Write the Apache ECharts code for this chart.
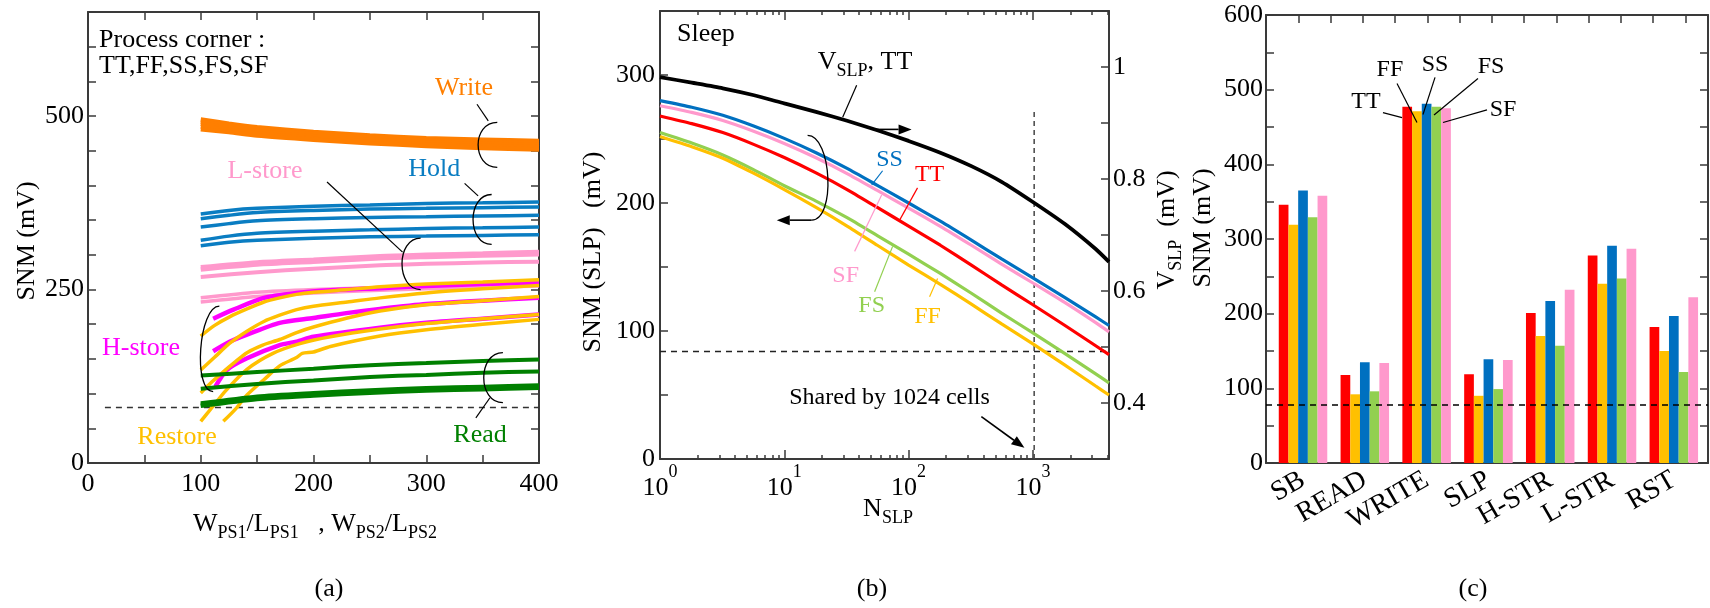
<!DOCTYPE html>
<html>
<head>
<meta charset="utf-8">
<script src="https://cdn.jsdelivr.net/npm/echarts@6/dist/echarts.min.js"></script>
<style>
html,body{margin:0;padding:0;background:#fff;}
#chart{width:1710px;height:608px;}
</style>
</head>
<body>
<div id="chart"></div>
<script>
// ---------- (a) SNM vs W/L of the power switches ----------
const WRITE_CURVES = [
  [[100,495],[125,489],[150,484],[200,477],[250,472],[300,468],[350,466],[400,464]],
  [[100,492],[125,486],[150,481],[200,474],[250,469],[300,465],[350,463],[400,461]],
  [[100,489],[125,483],[150,478],[200,471],[250,466],[300,462],[350,460],[400,458]],
  [[100,485],[125,480],[150,475],[200,468],[250,463],[300,459],[350,457],[400,455]],
  [[100,481],[125,477],[150,472],[200,466],[250,461],[300,457],[350,454],[400,452]]
];
const HOLD_CURVES = [
  [[100,359],[125,364],[150,367],[200,370],[250,372],[300,374],[350,375],[400,376]],
  [[100,352],[125,357],[150,361],[200,364],[250,366],[300,367],[350,368],[400,369]],
  [[100,340],[125,345],[150,349],[200,352],[250,354],[300,355],[350,356],[400,357]],
  [[100,321],[125,327],[150,331],[200,334],[250,336],[300,338],[350,339],[400,340]],
  [[100,313],[125,318],[150,321],[200,324],[250,326],[300,327],[350,328],[400,329]]
];
const LSTORE_CURVES = [
  [[100,282],[150,289],[200,293],[259,298],[300,300],[350,302],[400,304]],
  [[100,279],[150,286],[200,290],[259,295],[300,297],[350,299],[400,301]],
  [[100,268],[150,275],[200,280],[259,285],[300,287],[350,289],[400,290]],
  [[100,238],[150,246],[200,250],[259,253],[300,255],[350,257],[400,259]],
  [[100,232],[150,240],[200,245],[259,249],[300,251],[350,253],[400,255]]
];
const HSTORE_CURVES = [
  [[111,208],[129,221],[156,238],[185,245],[215,249],[259,252],[300,255],[350,258],[400,260]],
  [[111,161],[126,175],[141,185],[170,202],[200,209],[229,216],[259,222],[300,229],[350,234],[400,238]],
  [[113,110],[123,134],[141,151],[170,170],[185,175],[200,182],[259,195],[300,202],[350,208],[400,214]]
];
const RESTORE_CURVES = [
  [[100,183],[112,198],[126,211],[141,222],[156,232],[170,238],[185,243],[200,246],[230,250],[259,254],[300,258],[350,261],[400,264]],
  [[100,134],[112,152],[126,173],[141,190],[156,204],[170,213],[185,221],[200,226],[230,232],[259,238],[300,245],[350,251],[400,256]],
  [[100,101],[110,117],[119,130],[130,145],[141,159],[155,170],[170,178],[185,188],[200,196],[230,209],[259,219],[300,228],[350,234],[400,240]],
  [[100,60],[110,80],[122,104],[141,135],[164,158],[188,172],[215,182],[259,193],[300,201],[350,208],[400,214]],
  [[120,60],[131,78],[141,98],[156,120],[170,140],[185,152],[190,158],[200,160],[215,168],[259,183],[300,192],[350,200],[400,207]]
];
const READ_CURVES = [
  [[100,126],[150,131],[200,136],[250,141],[300,144],[350,147],[400,149]],
  [[100,107],[150,114],[200,119],[250,124],[300,127],[350,130],[400,132]],
  [[100,86],[150,96],[200,101],[250,105],[300,108],[350,110],[400,112]],
  [[100,84],[150,94],[200,99],[250,103],[300,106],[350,108],[400,110]],
  [[100,82],[150,92],[200,97],[250,101],[300,104],[350,106],[400,108]]
];
const LIMIT_A = 80;           // minimum SNM requirement (mV)
const LIMIT_A_FROM = 15;      // W/L where the dashed line starts

// ---------- (b) SNM in sleep vs number of cells sharing one switch ----------
const N_SLP = [1, 1.8, 3.2, 5.6, 10, 18, 32, 56, 100, 180, 320, 560, 1000, 1800, 3200, 4096];
const SLP_SS = [280, 274.8, 268.5, 260.3, 250.5, 239.3, 227, 213.8, 200, 185.8, 171, 156.3, 141.5, 126.3, 111, 104.3];
const SLP_SF = [276, 270.8, 264.5, 256.3, 246.5, 235.3, 223, 209.8, 196, 181.8, 167, 152.3, 137.5, 122.3, 106.5, 99.3];
const SLP_TT = [268, 262, 255, 246, 235.5, 223.5, 210.5, 196.5, 182, 167, 151.5, 136, 120.5, 104.5, 88.5, 81.5];
const SLP_FS = [255, 246.8, 237.5, 226.3, 213.5, 201.5, 188.5, 174.5, 160, 145, 129.5, 114, 98.5, 82.5, 66.5, 59.5];
const SLP_FF = [252, 244, 235, 223.5, 210.5, 196.5, 182, 167, 151.5, 136.5, 121, 105.5, 90, 73.5, 57, 50];
const VSLP_TT = [0.982, 0.972, 0.962, 0.950, 0.935, 0.920, 0.904, 0.887, 0.868, 0.847, 0.823, 0.795, 0.759, 0.720, 0.675, 0.652];
const LIMIT_B = 84;
const N_SHARED = 1024;
const SHARED_LINE_TOP = 271;
const N_MAJOR = [1, 10, 100, 1000];
const N_MINOR = [2,3,4,5,6,7,8,9,20,30,40,50,60,70,80,90,200,300,400,500,600,700,800,900,2000,3000,4000];

// ---------- (c) SNM per operation mode and process corner ----------
const MODES = ['SB', 'READ', 'WRITE', 'SLP', 'H-STR', 'L-STR', 'RST'];
const CORNERS = ['TT', 'FF', 'SS', 'FS', 'SF'];
const SNM_TT = [346, 118, 477, 119, 201, 278, 182];
const SNM_FF = [319, 92, 471, 90, 170, 240, 150];
const SNM_SS = [365, 135, 481, 139, 217, 291, 197];
const SNM_FS = [329, 96, 477, 99, 157, 247, 122];
const SNM_SF = [358, 134, 475, 138, 232, 287, 222];
const LIMIT_C = 78;

const COL = {
  write: '#FF7F00', hold: '#0A7DC2', lstore: '#FF99CC', hstore: '#FF00FF',
  restore: '#FFC000', read: '#008000',
  TT: '#FF0000', FF: '#FFC000', SS: '#0070C0', FS: '#92D050', SF: '#FF99CC'
};
const FONT = '"Liberation Serif", "Times New Roman", serif';
const AX = '#3a3a3a';

const chart = echarts.init(document.getElementById('chart'), null, {renderer: 'canvas'});

function axisBase(extra) {
  const base = {
    axisLine: {show: true, onZero: false, lineStyle: {color: AX, width: 2}},
    axisTick: {show: true, inside: true, length: 8, lineStyle: {color: AX, width: 1.5}},
    axisLabel: {show: false, color: '#000', fontFamily: FONT, fontSize: 26},
    splitLine: {show: false},
    minorTick: {show: false}
  };
  const out = Object.assign({}, base, extra);
  ['axisLine', 'axisTick', 'axisLabel'].forEach(k => {
    if (extra[k]) out[k] = Object.assign({}, base[k], extra[k]);
  });
  return out;
}

const logLabel = v => '{b|10}{s|' + Math.round(Math.log10(v)) + '}';
const logRich = {
  b: {fontFamily: FONT, fontSize: 26, color: '#000', padding: [12, 0, 0, 0], verticalAlign: 'bottom'},
  s: {fontFamily: FONT, fontSize: 18, color: '#000', verticalAlign: 'top'}
};

const xAxes = [
  // (a)
  axisBase({gridIndex: 0, type: 'value', position: 'bottom', min: 0, max: 400, interval: 50,
    axisLabel: {show: true, margin: 8, formatter: v => (v % 100 === 0 ? String(v) : '')}}),
  axisBase({gridIndex: 0, type: 'value', position: 'top', min: 0, max: 400, interval: 50}),
  // (b)
  axisBase({gridIndex: 1, type: 'log', logBase: 10, position: 'bottom', min: 1, max: 4096,
    axisTick: {customValues: N_MAJOR, length: 9},
    axisLabel: {show: true, margin: 4, customValues: N_MAJOR, formatter: logLabel, rich: logRich}}),
  axisBase({gridIndex: 1, type: 'log', logBase: 10, position: 'bottom', min: 1, max: 4096,
    axisLine: {show: false}, axisTick: {customValues: N_MINOR, length: 4}}),
  axisBase({gridIndex: 1, type: 'log', logBase: 10, position: 'top', min: 1, max: 4096,
    axisTick: {customValues: N_MAJOR, length: 9}}),
  axisBase({gridIndex: 1, type: 'log', logBase: 10, position: 'top', min: 1, max: 4096,
    axisLine: {show: false}, axisTick: {customValues: N_MINOR, length: 4}}),
  // (c)
  axisBase({gridIndex: 2, type: 'value', position: 'bottom', min: -0.599, max: 6.553,
    axisTick: {show: false},
    axisLabel: {show: true, customValues: MODES.map((m, i) => i), rotate: 30, margin: 15, fontSize: 28,
      formatter: v => MODES[Math.round(v)] || ''}}),
  axisBase({gridIndex: 2, type: 'value', position: 'top', min: 0, max: 13.7, interval: 1})
];

const yAxes = [
  // (a)
  axisBase({gridIndex: 0, type: 'value', position: 'left', min: 0, max: 650, interval: 50,
    axisLabel: {show: true, margin: 4, formatter: v => (v % 250 === 0 ? String(v) : '')}}),
  axisBase({gridIndex: 0, type: 'value', position: 'right', min: 0, max: 650, interval: 50}),
  // (b)
  axisBase({gridIndex: 1, type: 'value', position: 'left', min: 0, max: 350, interval: 50,
    axisLabel: {show: true, margin: 5, formatter: v => (v % 100 === 0 ? String(v) : '')}}),
  axisBase({gridIndex: 1, type: 'value', position: 'right', min: 0.3, max: 1.1, interval: 0.1,
    axisLabel: {show: true, margin: 4, formatter: v => {
      const t = Math.round(v * 10);
      if (t === 10) return '1';
      return (t === 4 || t === 6 || t === 8) ? (t / 10).toFixed(1) : '';
    }}}),
  // (c)
  axisBase({gridIndex: 2, type: 'value', position: 'left', min: 0, max: 600, interval: 50,
    axisLabel: {show: true, margin: 3, formatter: v => (v % 100 === 0 ? String(v) : '')}}),
  axisBase({gridIndex: 2, type: 'value', position: 'right', min: 0, max: 600, interval: 50})
];

function curveSeries(curves, color, widths) {
  return curves.map((c, i) => ({
    type: 'line', xAxisIndex: 0, yAxisIndex: 0, data: c, symbol: 'none', smooth: 0.25,
    lineStyle: {color: color, width: Array.isArray(widths) ? widths[i] : widths},
    silent: true, z: 3
  }));
}

const series = [];
// (a)
series.push(...curveSeries(WRITE_CURVES, COL.write, 4.5));
series.push(...curveSeries(HOLD_CURVES, COL.hold, 3.5));
series.push(...curveSeries(LSTORE_CURVES, COL.lstore, [4.5, 4.5, 4, 3.5, 3.5]));
series.push(...curveSeries(HSTORE_CURVES, COL.hstore, 4.5));
series.push(...curveSeries(RESTORE_CURVES, COL.restore, 3.5));
series.push(...curveSeries(READ_CURVES, COL.read, 4));
series.push({
  type: 'line', xAxisIndex: 0, yAxisIndex: 0, data: [[LIMIT_A_FROM, LIMIT_A], [400, LIMIT_A]],
  symbol: 'none', lineStyle: {color: '#333', width: 1.5, type: [6, 5]}, silent: true, z: 2
});

// (b)
const slpSets = [['SS', SLP_SS], ['SF', SLP_SF], ['TT', SLP_TT], ['FS', SLP_FS], ['FF', SLP_FF]];
slpSets.forEach(([k, vals]) => series.push({
  type: 'line', xAxisIndex: 2, yAxisIndex: 2, name: k,
  data: N_SLP.map((n, i) => [n, vals[i]]), symbol: 'none', smooth: 0.2,
  lineStyle: {color: COL[k], width: 3.2}, silent: true, z: 3
}));
series.push({
  type: 'line', xAxisIndex: 2, yAxisIndex: 3, name: 'VSLP',
  data: N_SLP.map((n, i) => [n, VSLP_TT[i]]), symbol: 'none', smooth: 0.2,
  lineStyle: {color: '#000', width: 3.8}, silent: true, z: 3
});
series.push({
  type: 'line', xAxisIndex: 2, yAxisIndex: 2, data: [[1, LIMIT_B], [4096, LIMIT_B]],
  symbol: 'none', lineStyle: {color: '#222', width: 1.5, type: [6, 5]}, silent: true, z: 2
});
series.push({
  type: 'line', xAxisIndex: 2, yAxisIndex: 2, data: [[N_SHARED, 0], [N_SHARED, SHARED_LINE_TOP]],
  symbol: 'none', lineStyle: {color: '#444', width: 1.5, type: [5, 4]}, silent: true, z: 2
});

// (c)
const barSets = {TT: SNM_TT, FF: SNM_FF, SS: SNM_SS, FS: SNM_FS, SF: SNM_SF};
CORNERS.forEach((k, idx) => series.push({
  type: 'bar', xAxisIndex: 6, yAxisIndex: 4, name: k,
  data: barSets[k].map((v, i) => [i, v]), barWidth: 9.7, barGap: '0%',
  itemStyle: {color: COL[k]}, silent: true,
  markLine: idx === 0 ? {
    silent: true, symbol: 'none', label: {show: false},
    lineStyle: {color: '#000', width: 1.5, type: [6, 5]},
    data: [{yAxis: LIMIT_C}]
  } : undefined
}));

chart.setOption({
  animation: false,
  backgroundColor: '#fff',
  textStyle: {fontFamily: FONT},
  grid: [
    {left: 88, top: 12, width: 451, height: 451},
    {left: 660, top: 11, width: 449, height: 448},
    {left: 1266, top: 15, width: 442, height: 448}
  ],
  xAxis: xAxes,
  yAxis: yAxes,
  series: series
});

// ---------- annotations, anchored in data coordinates ----------
const PA = {xAxisIndex: 0, yAxisIndex: 0};
const PB = {xAxisIndex: 2, yAxisIndex: 2};
const PC = {xAxisIndex: 6, yAxisIndex: 4};
const px = (p, pt) => chart.convertToPixel(p, pt);

const g = [];
function textStyle(str, opt) {
  return {text: str, fill: opt.color || '#000', fontFamily: FONT, fontSize: opt.size || 26,
    align: opt.align || 'center', verticalAlign: 'middle', rich: opt.rich};
}
function text(p, pt, str, opt) {
  const q = px(p, pt);
  opt = opt || {};
  g.push({type: 'text', x: q[0], y: q[1], silent: true, z: 20, style: textStyle(str, opt)});
}
function rawText(x, y, str, opt) {
  opt = opt || {};
  g.push({type: 'text', x: x, y: y, rotation: opt.rotation || 0, silent: true, z: 20,
    style: textStyle(str, opt)});
}
function seg(p, a, b, w, color) {
  const A = px(p, a), B = px(p, b);
  g.push({type: 'line', silent: true, z: 20,
    shape: {x1: A[0], y1: A[1], x2: B[0], y2: B[1]},
    style: {stroke: color || '#000', lineWidth: w || 1.2}});
}
function arrow(p, a, b, w) {
  const A = px(p, a), B = px(p, b);
  const dx = B[0] - A[0], dy = B[1] - A[1], L = Math.hypot(dx, dy);
  const ux = dx / L, uy = dy / L, hl = 13, hw = 5;
  const bx = B[0] - ux * hl, by = B[1] - uy * hl;
  g.push({type: 'line', silent: true, z: 20,
    shape: {x1: A[0], y1: A[1], x2: bx, y2: by}, style: {stroke: '#000', lineWidth: w || 1.6}});
  g.push({type: 'polygon', silent: true, z: 20,
    shape: {points: [[B[0], B[1]], [bx - uy * hw, by + ux * hw], [bx + uy * hw, by - ux * hw]]},
    style: {fill: '#000'}});
}
// curved brace; dir -1 bulges left "(", +1 bulges right ")"
function brace(p, top, bottom, bulgeX, dir) {
  const T = px(p, top), B = px(p, bottom), E = px(p, [bulgeX, top[1]]);
  const k = Math.abs(E[0] - (T[0] + B[0]) / 2) * 4 / 3;
  g.push({type: 'bezierCurve', silent: true, z: 20,
    shape: {x1: T[0], y1: T[1], x2: B[0], y2: B[1],
      cpx1: T[0] + dir * k, cpy1: T[1], cpx2: B[0] + dir * k, cpy2: B[1]},
    style: {stroke: '#000', lineWidth: 1.3, fill: null}});
}

const subRich = {
  n: {fontFamily: FONT, fontSize: 26, color: '#000', padding: [0, 0, 5, 0], verticalAlign: 'top'},
  s: {fontFamily: FONT, fontSize: 18, color: '#000', verticalAlign: 'bottom'}
};

// (a)
text(PA, [9.8, 610], 'Process corner :', {align: 'left'});
text(PA, [9.8, 572], 'TT,FF,SS,FS,SF', {align: 'left'});
text(PA, [333.5, 540], 'Write', {color: COL.write});
text(PA, [307, 423], 'Hold', {color: COL.hold});
text(PA, [157, 420.5], 'L-store', {color: COL.lstore});
text(PA, [47, 166], 'H-store', {color: COL.hstore});
text(PA, [79, 37.6], 'Restore', {color: COL.restore});
text(PA, [347.7, 40.5], 'Read', {color: COL.read});
brace(PA, [363, 491], [363, 426], 346, -1);
seg(PA, [345, 517], [355, 493]);
brace(PA, [358, 387], [358, 315], 341.5, -1);
seg(PA, [334, 403], [346, 385]);
brace(PA, [295, 324], [295, 250], 278.5, -1);
seg(PA, [212, 405], [279, 304]);
brace(PA, [116.5, 226], [111, 103], 100, -1);
brace(PA, [368, 159], [368, 87], 351, -1);
seg(PA, [356.5, 94], [344, 65]);

// (b)
text(PB, [1.37, 332], 'Sleep', {align: 'left'});
text(PB, [18.6, 308], '{n|V}{s|SLP}{n|, TT}', {align: 'left', rich: subRich});
seg(PB, [38.2, 292], [29.5, 267]);
arrow(PB, [51.4, 257.5], [105.7, 257.5]);
brace(PB, [15.4, 252.8], [16.6, 186.6], 22.4, 1);
arrow(PB, [16.6, 186.6], [8.7, 186.6]);
text(PB, [70.3, 234], 'SS', {color: COL.SS, size: 24});
seg(PB, [61.8, 225.2], [50.5, 214.2], 1.2, COL.SS);
text(PB, [147.5, 222], 'TT', {color: COL.TT, size: 24});
seg(PB, [118, 211.8], [84.7, 186.6], 1.2, COL.TT);
text(PB, [31.2, 143.3], 'SF', {color: COL.SF, size: 24});
seg(PB, [36.8, 162.2], [60.7, 206.3], 1.2, COL.SF);
text(PB, [50.5, 119.7], 'FS', {color: COL.FS, size: 24});
seg(PB, [53.3, 130.7], [74.4, 166.1], 1.2, COL.FS);
text(PB, [142, 111], 'FF', {color: COL.FF, size: 24});
seg(PB, [147.5, 126.8], [171, 141], 1.2, COL.FF);
text(PB, [70.3, 48], 'Shared by 1024 cells', {size: 24});
arrow(PB, [385, 33.1], [855, 8.7]);

// (c)
text(PC, [1.019, 484], 'TT', {size: 24});
seg(PC, [1.294, 469.3], [1.602, 462.6]);
text(PC, [1.407, 527], 'FF', {size: 24});
seg(PC, [1.521, 508.3], [1.844, 456]);
text(PC, [2.136, 534], 'SS', {size: 24});
seg(PC, [2.136, 516.4], [1.941, 466.7]);
text(PC, [3.042, 531], 'FS', {size: 24});
seg(PC, [2.831, 515], [2.12, 466]);
text(PC, [3.236, 473], 'SF', {size: 24});
seg(PC, [2.977, 473], [2.265, 456]);

// axis titles and panel captions
rawText(27, 241, 'SNM (mV)', {rotation: Math.PI / 2});
rawText(315, 527, '{n|W}{s|PS1}{n|/L}{s|PS1}{n|   , W}{s|PS2}{n|/L}{s|PS2}', {rich: subRich});
rawText(593, 252, 'SNM (SLP)   (mV)', {rotation: Math.PI / 2});
rawText(888, 512, '{n|N}{s|SLP}', {rich: subRich});
rawText(1170, 230, '{n|V}{s|SLP}{n|  (mV)}', {rotation: Math.PI / 2, rich: subRich});
rawText(1203, 228, 'SNM (mV)', {rotation: Math.PI / 2});
rawText(329, 589, '(a)');
rawText(872, 589, '(b)');
rawText(1473, 589, '(c)');

chart.setOption({graphic: g});
</script>
</body>
</html>
